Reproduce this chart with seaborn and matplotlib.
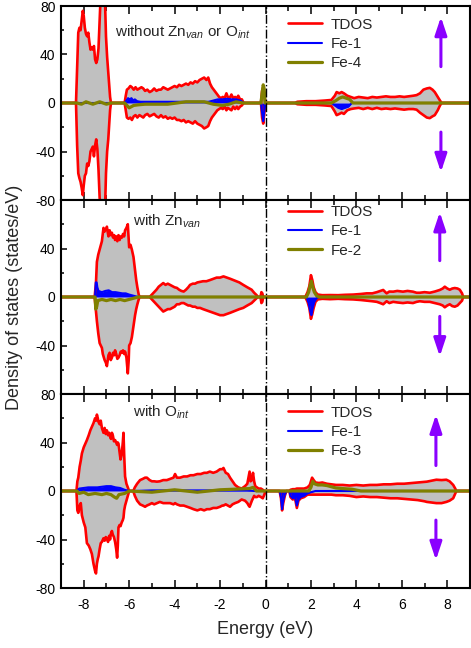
import matplotlib
matplotlib.use("Agg")
import matplotlib.pyplot as plt
from matplotlib.ticker import MultipleLocator
import seaborn as sns

# --- data (energy in eV, DOS in states/eV) ---
# panel 1: without Zn_van or O_int
e_tdos_1 = [-9.0, -8.34, -8.29, -8.24, -8.19, -8.14, -8.09, -8.04, -8.0, -7.95, -7.9, -7.85, -7.8, -7.75,
            -7.7, -7.65, -7.6, -7.55, -7.5, -7.45, -7.4, -7.35, -7.3, -7.26, -7.2, -7.15, -7.1, -7.06,
            -7.02, -6.97, -6.92, -6.88, -6.84, -6.8,
            -6.2, -6.15, -6.1, -6.03, -5.95, -5.88, -5.8, -5.72, -5.64, -5.55, -5.46, -5.38, -5.3, -5.2,
            -5.1, -5.0, -4.9, -4.8, -4.7, -4.6, -4.5, -4.4, -4.3, -4.2, -4.1, -4.0, -3.9, -3.8, -3.7,
            -3.6, -3.5, -3.4, -3.3, -3.2, -3.1, -3.0, -2.9, -2.8, -2.7, -2.6, -2.52, -2.44, -2.36, -2.28,
            -2.2, -2.12, -2.04, -1.96, -1.88, -1.8, -1.72, -1.66, -1.58, -1.5, -1.42, -1.34, -1.26, -1.2,
            -1.12, -1.04, -0.96,
            -0.2, -0.15, -0.1, -0.05, 0.0,
            1.3, 1.4, 1.8, 2.2, 2.6, 2.9, 3.05, 3.13, 3.25, 3.35, 3.45, 3.6, 3.75, 3.9, 4.1, 4.3, 4.5,
            4.7, 4.9, 5.1, 5.3, 5.5, 5.7, 5.9, 6.1, 6.3, 6.5, 6.65, 6.8, 6.95, 7.1, 7.23, 7.35, 7.45,
            7.58, 7.68, 7.75, 9.0]
up_tdos_1 = [0, 0, 30, 58, 62, 60, 68, 76, 72, 62, 57, 55, 58, 50,
             44, 46, 44, 47, 36, 33, 36, 45, 68, 86, 86, 84, 86, 82,
             55, 38, 25, 15, 5, 0,
             0, 6, 11, 12, 14, 13, 11, 13, 11, 12, 13, 12, 10, 11,
             9, 10, 12, 10, 11, 11, 13, 12, 11, 12, 13, 14, 13, 15, 14,
             15, 16, 15, 17, 16, 18, 17, 19, 20, 21, 19, 21, 16, 13, 11,
             9, 7, 5, 4, 5, 4, 8, 5, 4, 7, 4, 5, 4, 6,
             3, 3, 0,
             0, 10, 13, 6, 0,
             0, 1, 1.5, 1.5, 2, 2.5, 6, 9, 8, 9, 8, 6, 5, 4, 5, 4.5, 4,
             5, 4.5, 5, 5.5, 5, 5, 5.5, 5, 5.5, 6, 6.5, 8, 11, 12, 12.5, 11, 9,
             5, 2, 0, 0]
dn_tdos_1 = [0, 0, -35, -58, -62, -65, -70, -76, -68, -60, -58, -50, -52, -48,
             -40, -38, -36, -44, -35, -30, -38, -55, -78, -86, -86, -86, -84, -86,
             -58, -40, -30, -18, -6, 0,
             0, -6, -12, -13, -12, -14, -11, -10, -12, -10, -11, -12, -10, -9,
             -11, -10, -9, -11, -12, -10, -12, -11, -13, -12, -13, -12, -14, -14, -15,
             -14, -16, -15, -16, -17, -15, -17, -18, -19, -21, -20, -19, -15, -12, -10,
             -8, -6, -5, -4, -5, -3, -6, -4, -5, -6, -3, -5, -3, -5,
             -3, -2, 0,
             0, -12, -17, -8, 0,
             0, -1, -1.5, -1.5, -2, -2.5, -7, -10, -9, -8, -9, -6, -5, -4.5, -4, -5, -4,
             -5, -4, -5, -4.5, -5, -4.5, -5, -5.5, -5, -5, -5.5, -8, -10, -12, -12.5, -11, -10,
             -6, -2, 0, 0]
e_fe1_1 = [-9.0, -6.2, -6.12, -6.05, -5.97, -5.9, -5.82, -5.75, -5.65, -5.5, -5.0, -4.5, -3.5, -2.5,
           -2.3, -2.1, -1.9, -1.7, -1.5, -1.3, -1.1, -0.95, -0.2, -0.15, -0.1, -0.05, 0.0,
           2.9, 3.05, 3.2, 3.35, 3.5, 3.65, 3.8, 9.0]
fe1_1 = [0, 0, 2, 4, 3, 4, 2, 3, 1.5, 1, 1, 1, 1, 1,
         2, 3, 3, 3.5, 3, 3, 2, 0, 0, -8, -15, -6, 0,
         0, -2, -4, -5, -4, -3, 0, 0]
e_feb_1 = [-9.0, -8.3, -8.1, -7.9, -7.6, -7.3, -7.0, -6.8, -6.2, -6.1, -6.0, -5.9, -5.8, -5.6, -5.3,
           -4.8, -4.3, -3.5, -2.7, -2.3, -1.9, -1.6, -1.3, -1.0, -0.2, -0.15, -0.1, -0.06, -0.02,
           2.9, 3.1, 3.25, 3.4, 3.55, 3.7, 3.85, 9.0]
feb_1 = [0, 0, -1, 1, -1, 1, -1, 0, 0, -2, -4, -3, -2, -1.5, -1,
         -1, -1, 1, 1, -1, -2, -1, 1, 0, 0, 8, 15, 12, 0,
         0, 2, 4, 5, 4, 3, 0, 0]

# panel 2: with Zn_van
e_tdos_2 = [-9.0, -7.52, -7.46, -7.42, -7.36, -7.3, -7.25, -7.2, -7.16, -7.13, -7.08, -7.03, -6.98,
            -6.94, -6.91, -6.86, -6.81, -6.76, -6.71, -6.66, -6.62, -6.57, -6.52, -6.47, -6.42, -6.37,
            -6.32, -6.27, -6.22, -6.18, -6.12, -6.06, -6.02, -6.0, -5.94, -5.88, -5.81, -5.74, -5.69,
            -5.64, -5.58, -5.54,
            -5.1, -5.0, -4.9, -4.8, -4.7, -4.6, -4.5, -4.4, -4.3, -4.2, -4.1, -4.0, -3.9, -3.8, -3.7,
            -3.6, -3.5, -3.4, -3.32, -3.2, -3.1, -3.0, -2.88, -2.75, -2.6, -2.44, -2.3, -2.15, -2.0,
            -1.85, -1.7, -1.55, -1.42, -1.3, -1.15, -0.98, -0.8, -0.61, -0.5, -0.39, -0.34, -0.22,
            -0.18, -0.14, -0.1,
            1.75, 1.85, 1.93, 2.0, 2.06, 2.12, 2.2, 2.3, 2.5, 2.84, 3.2, 3.5, 3.86, 4.2, 4.45, 4.7,
            4.9, 5.05, 5.18, 5.33, 5.45, 5.62, 5.8, 6.05, 6.25, 6.49, 6.65, 6.79, 7.0, 7.23, 7.45,
            7.67, 7.8, 7.89, 8.0, 8.11, 8.22, 8.33, 8.45, 8.55, 8.65, 8.7, 9.0]
up_tdos_2 = [0, 0, 12, 29, 35, 39, 42, 46, 52, 57, 54, 56, 58,
             53, 50, 55, 51, 53, 49, 51, 47, 50, 46, 51, 47, 50,
             49, 52, 50, 55, 57, 60, 48, 41, 43, 39, 33, 22, 14,
             8, 2, 0,
             0, 2, 4, 6, 8.5, 10, 11.5, 10, 11, 10, 9, 8, 7.5, 6, 5,
             4.5, 6, 8, 10, 11, 11, 12, 12.5, 13, 13, 14, 15, 16, 16,
             17, 16, 15, 14, 13, 12, 10, 8, 6, 3.5, 1.5, 0, 0,
             4, 3, 0,
             0, 4, 9, 18, 14, 8, 4, 2, 1.5, 1.6, 1.5, 1.8, 2, 2.5, 3, 3,
             4, 5, 5.8, 3, 4.5, 4.4, 5, 4.4, 5, 4.4, 3.5, 3.5, 4, 3.5, 4.5,
             5.8, 7, 8.5, 7, 6, 7, 7.4, 7, 6, 3, 0, 0]
dn_tdos_2 = [0, 0, -12, -20, -30, -38, -40, -42, -47, -49, -52, -54, -57,
             -52, -48, -46, -52, -50, -46, -48, -44, -47, -51, -50, -48, -45,
             -46, -44, -47, -45, -50, -63, -52, -40, -38, -33, -24, -15, -10,
             -6, -2, 0,
             0, -2, -4, -6, -8, -10, -12, -11, -10, -10, -9, -8, -6, -6, -5,
             -5, -6, -7, -7, -8, -8, -9, -9, -10, -11, -12, -13, -14, -15,
             -15, -14, -13, -12, -11, -10, -9, -7, -5, -3, -1, 0, 0,
             -5, -4, 0,
             0, -4, -9, -18, -14, -9, -4, -2, -1.5, -1.8, -1.5, -1.8, -2, -2.5, -3, -3.5,
             -4, -5, -6, -3.5, -5, -4, -4.5, -5, -4.5, -5, -4, -3.5, -4, -4, -5,
             -6, -7, -8.5, -7, -6, -7.5, -8, -7, -5, -3, 0, 0]
e_fe1_2 = [-9.0, -7.5, -7.47, -7.43, -7.4, -7.35, -7.2, -7.05, -6.9, -6.75, -6.6, -6.45, -6.3, -6.15,
           -6.0, -5.8, -5.6, 1.8, 1.9, 1.97, 2.02, 2.08, 2.15, 2.25, 2.35, 9.0]
fe1_2 = [0, 0, 12, 12, 8, 5, 4, 5, 5.5, 4, 4, 3.5, 3, 3,
         2, 1, 0, 0, -5, -12, -15, -9, -4, -1, 0, 0]
e_feb_2 = [-9.0, -7.5, -7.47, -7.43, -7.38, -7.2, -7.0, -6.8, -6.6, -6.4, -6.2, -6.0, -5.8, -5.6,
           1.8, 1.9, 1.97, 2.02, 2.08, 2.15, 2.25, 2.35, 9.0]
feb_2 = [0, 0, -10, -8, -3, -2, -3, -2, -3, -2, -3, -2, -1, 0,
         0, 4, 10, 13, 8, 4, 1, 0, 0]

# panel 3: with O_int
e_tdos_3 = [-9.0, -8.32, -8.28, -8.24, -8.18, -8.13, -8.08, -8.0, -7.93, -7.86, -7.78, -7.71, -7.64,
            -7.57, -7.5, -7.46, -7.42, -7.38, -7.35, -7.3, -7.25, -7.2, -7.13, -7.08, -7.03, -6.98,
            -6.93, -6.88, -6.84, -6.8, -6.76, -6.72, -6.67, -6.62, -6.57, -6.53, -6.5, -6.47, -6.42,
            -6.38, -6.33, -6.28, -6.25, -6.22, -6.18, -6.12, -6.06, -6.0,
            -5.82, -5.75, -5.65, -5.52, -5.4, -5.3, -5.22, -5.1, -5.0, -4.9, -4.78, -4.65, -4.5, -4.34,
            -4.2, -4.05, -3.98, -3.9, -3.76, -3.6, -3.45, -3.3, -3.17, -3.0, -2.85, -2.7, -2.58, -2.45,
            -2.3, -2.15, -2.0, -1.9, -1.85, -1.75, -1.65, -1.56, -1.45, -1.34, -1.2, -1.05, -0.9, -0.8,
            -0.74, -0.7, -0.66, -0.6, -0.55, -0.5, -0.45, -0.38, -0.3, -0.2, -0.12, -0.05, 0.0,
            0.62, 0.68, 0.73, 0.78, 0.85, 0.92, 1.05, 1.1, 1.2, 1.3, 1.38, 1.45, 1.55, 1.7, 1.85, 1.95,
            2.05, 2.12, 2.2, 2.35, 2.5, 2.7, 2.9, 3.1, 3.4, 3.7, 4.0, 4.3, 4.6, 4.9, 5.2, 5.5, 5.8,
            6.1, 6.4, 6.7, 7.0, 7.1, 7.3, 7.52, 7.75, 7.96, 8.1, 8.26, 8.35, 8.4, 9.0]
up_tdos_3 = [0, 0, 8, 11, 20, 25, 31, 36, 39, 42, 46, 50, 53,
             56, 60, 58, 63, 60, 57, 55, 58, 52, 48, 52, 47, 50,
             46, 48, 45, 43, 48, 46, 41, 42, 40, 38, 40, 39, 32,
             26, 30, 40, 48, 30, 12, 6, 3, 0,
             0, 3, 6, 9, 10, 11, 11, 9, 8, 8, 7.7, 8, 9, 9,
             10, 11, 14, 11, 11, 12, 12, 13, 13, 14, 14, 15, 15, 16,
             15, 16, 18, 18, 19, 15, 14, 11, 8, 5, 3, 2, 4, 6,
             12, 16, 8, 9, 15, 8, 4, 3, 2, 2, 1, 0, 0,
             0, 0, 0, 0, 0, 0, 0, 1, 1.5, 1.5, 2, 2, 2, 2, 3, 5,
             11, 9, 7, 6.6, 7, 6, 5.5, 5, 5, 4.5, 5, 4.5, 5, 5, 5.5, 5.5, 6,
             6, 6.5, 7, 7.5, 7.7, 8.5, 9.3, 9, 9.3, 8, 5, 2, 0, 0]
dn_tdos_3 = [0, 0, -16, -18, -12, -10, -20, -26, -30, -43, -45, -48, -52,
             -60, -66, -68, -60, -56, -54, -48, -43, -42, -39, -41, -38, -39,
             -42, -37, -40, -35, -33, -36, -38, -42, -48, -55, -45, -30, -28,
             -29, -26, -24, -22, -16, -12, -8, -4, 0,
             0, -4, -8, -11, -12, -13, -12, -11, -10, -11, -10, -9, -10, -10,
             -10, -11, -10, -11, -12, -12, -13, -14, -15, -16, -15, -16, -15, -15,
             -14, -14, -13, -12, -12, -11, -12, -13, -11, -10, -9, -7, -8, -10,
             -12, -13, -11, -8, -6, -4, -5, -5, -4, -5, -6, -3, 0,
             0, -6, -16, -10, -4, 0, 0, -5, -7, -6, -14, -8, -6, -5, -3, -3,
             -3, -3, -3, -3, -3, -3, -3, -3.5, -3.5, -4, -5, -4.5, -5, -5, -5.5, -6, -6,
             -6.5, -7, -7.5, -8.5, -9, -9.5, -10, -10, -9, -8, -6, -2, 0, 0]
e_fe1_3 = [-9.0, -8.3, -8.2, -8.0, -7.8, -7.6, -7.4, -7.2, -7.0, -6.8, -6.6, -6.4, -6.2, -6.0, -5.8,
           -5.0, -4.0, -2.0, -0.8, -0.5, 0.62, 0.68, 0.73, 0.78, 0.85, 0.92, 1.05, 1.1, 1.2, 1.3,
           1.38, 1.45, 1.55, 1.7, 1.85, 2.0, 2.2, 9.0]
fe1_3 = [0, 0, 2, 2.5, 3, 3, 3, 3.5, 4, 4, 3, 2.5, 1, 0, 0,
         0.5, 0.5, 0.5, 0.5, 0, 0, -5, -15, -8, -3, 0, 0, -4, -6, -5,
         -12, -7, -5, -4, -2, -1, 0, 0]
e_feb_3 = [-9.0, -8.3, -8.2, -8.0, -7.8, -7.5, -7.2, -7.0, -6.8, -6.65, -6.55, -6.45, -6.2, -6.0,
           -5.0, -4.0, -3.0, -2.0, -0.7, -0.55, -0.4, 1.9, 2.0, 2.08, 2.15, 2.3, 2.5, 2.7, 2.9, 3.1,
           3.4, 3.8, 4.2, 9.0]
feb_3 = [0, 0, -2, -1, -3, -2, -3, -2, -3, -5, -6, -3, -2, 0,
         -1, 1, -1, 1, 2, 3, 0, 0, 3, 8, 6, 5, 5, 4.5, 3.5, 2.5,
         2, 1.5, 0, 0]

panels = [
    (e_tdos_1, up_tdos_1, dn_tdos_1, e_fe1_1, fe1_1, e_feb_1, feb_1, "Fe-4",
     "without Zn$_{van}$ or O$_{int}$"),
    (e_tdos_2, up_tdos_2, dn_tdos_2, e_fe1_2, fe1_2, e_feb_2, feb_2, "Fe-2",
     "with Zn$_{van}$"),
    (e_tdos_3, up_tdos_3, dn_tdos_3, e_fe1_3, fe1_3, e_feb_3, feb_3, "Fe-3",
     "with O$_{int}$"),
]

# --- style ---
sns.set_theme(style="ticks")
plt.rcParams["font.family"] = ["Liberation Sans", "DejaVu Sans"]
plt.rcParams["mathtext.fontset"] = "custom"
plt.rcParams["mathtext.rm"] = "Liberation Sans"
plt.rcParams["mathtext.it"] = "Liberation Sans:italic"
plt.rcParams["axes.unicode_minus"] = False

fig = plt.figure(figsize=(4.71, 6.48), dpi=100)
W, H = 471.0, 648.0
left, width, ph = 61 / W, 409 / W, 194 / H
bottoms = [448 / H, 254 / H, 60 / H]

text_pos = [(0.132, 0.866), (0.176, 0.892), (0.176, 0.905)]
leg_pos = [0.94, 0.975, 0.94]
arrows = [(7.72, (30, 71), (-24, -57)), (7.67, (30, 70), (-16, -49)), (7.5, (21, 63), (-24, -57))]

gray, red, blue, olive, violet = "#c0c0c0", "#ff0000", "#0000ff", "#808000", "#8a00ff"

for i, (e, up, dn, e1, f1, eb, fb, feb_name, title) in enumerate(panels):
    ax = fig.add_axes([left, bottoms[i], width, ph])
    ax.fill_between(e, up, 0, color=gray, lw=0)
    ax.fill_between(e, dn, 0, color=gray, lw=0)
    sns.lineplot(x=e, y=up, ax=ax, color=red, lw=1.9, estimator=None, sort=False, label="TDOS")
    sns.lineplot(x=e, y=dn, ax=ax, color=red, lw=1.9, estimator=None, sort=False, label="_nolegend_")
    ax.fill_between(e1, f1, 0, color=blue, lw=0)
    sns.lineplot(x=e1, y=f1, ax=ax, color=blue, lw=1.5, estimator=None, sort=False, label="Fe-1")
    sns.lineplot(x=eb, y=fb, ax=ax, color=olive, lw=2.3, estimator=None, sort=False, label=feb_name)
    ax.axvline(0, color="black", lw=1.0, ls="-.", zorder=5)

    xa, (u0, u1), (d0, d1) = arrows[i]
    aprops = dict(arrowstyle="-|>,head_length=0.9,head_width=0.3", color=violet, lw=2.2,
                  mutation_scale=12, shrinkA=0, shrinkB=0)
    ax.annotate("", xy=(xa, u1), xytext=(xa, u0), arrowprops=aprops)
    ax.annotate("", xy=(xa, d1), xytext=(xa, d0), arrowprops=aprops)

    ax.text(text_pos[i][0], text_pos[i][1], title, transform=ax.transAxes,
            fontsize=11, ha="left", va="center")

    ax.legend(loc="upper left", bbox_to_anchor=(0.555, leg_pos[i]), frameon=False, fontsize=11,
              handlelength=2.2, handletextpad=0.6, labelspacing=0.35, borderpad=0, borderaxespad=0)

    ax.set_xlim(-9, 9)
    ax.set_ylim(-80, 80)
    ax.set_xticks([-8, -6, -4, -2, 0, 2, 4, 6, 8])
    ax.set_yticks([-80, -40, 0, 40, 80])
    ax.xaxis.set_minor_locator(MultipleLocator(1))
    ax.yaxis.set_minor_locator(MultipleLocator(20))
    ax.tick_params(which="both", direction="in", top=True, right=False, width=1.1, colors="black",
                   labelsize=10)
    ax.tick_params(axis="x", which="major", length=6, pad=7)
    ax.tick_params(axis="x", which="minor", length=3.5)
    ax.tick_params(axis="y", which="major", length=4.5, pad=4)
    ax.tick_params(axis="y", which="minor", length=2.5)
    if i < 2:
        ax.tick_params(axis="x", labelbottom=False)
    if i == 1:
        ax.set_yticklabels(["", "-40", "0", "40", ""])
    ax.set_xlabel("")
    ax.set_ylabel("")
    for s in ax.spines.values():
        s.set_linewidth(1.5)
        s.set_color("black")
        s.set_visible(True)
        s.set_zorder(10)

fig.text(265 / W, 1 - 630 / H, "Energy (eV)", ha="center", va="center", fontsize=13)
fig.text(15 / W, 1 - 297 / H, "Density of states (states/eV)", ha="center", va="center",
         rotation=90, fontsize=13)

fig.savefig("out.png", dpi=100)
